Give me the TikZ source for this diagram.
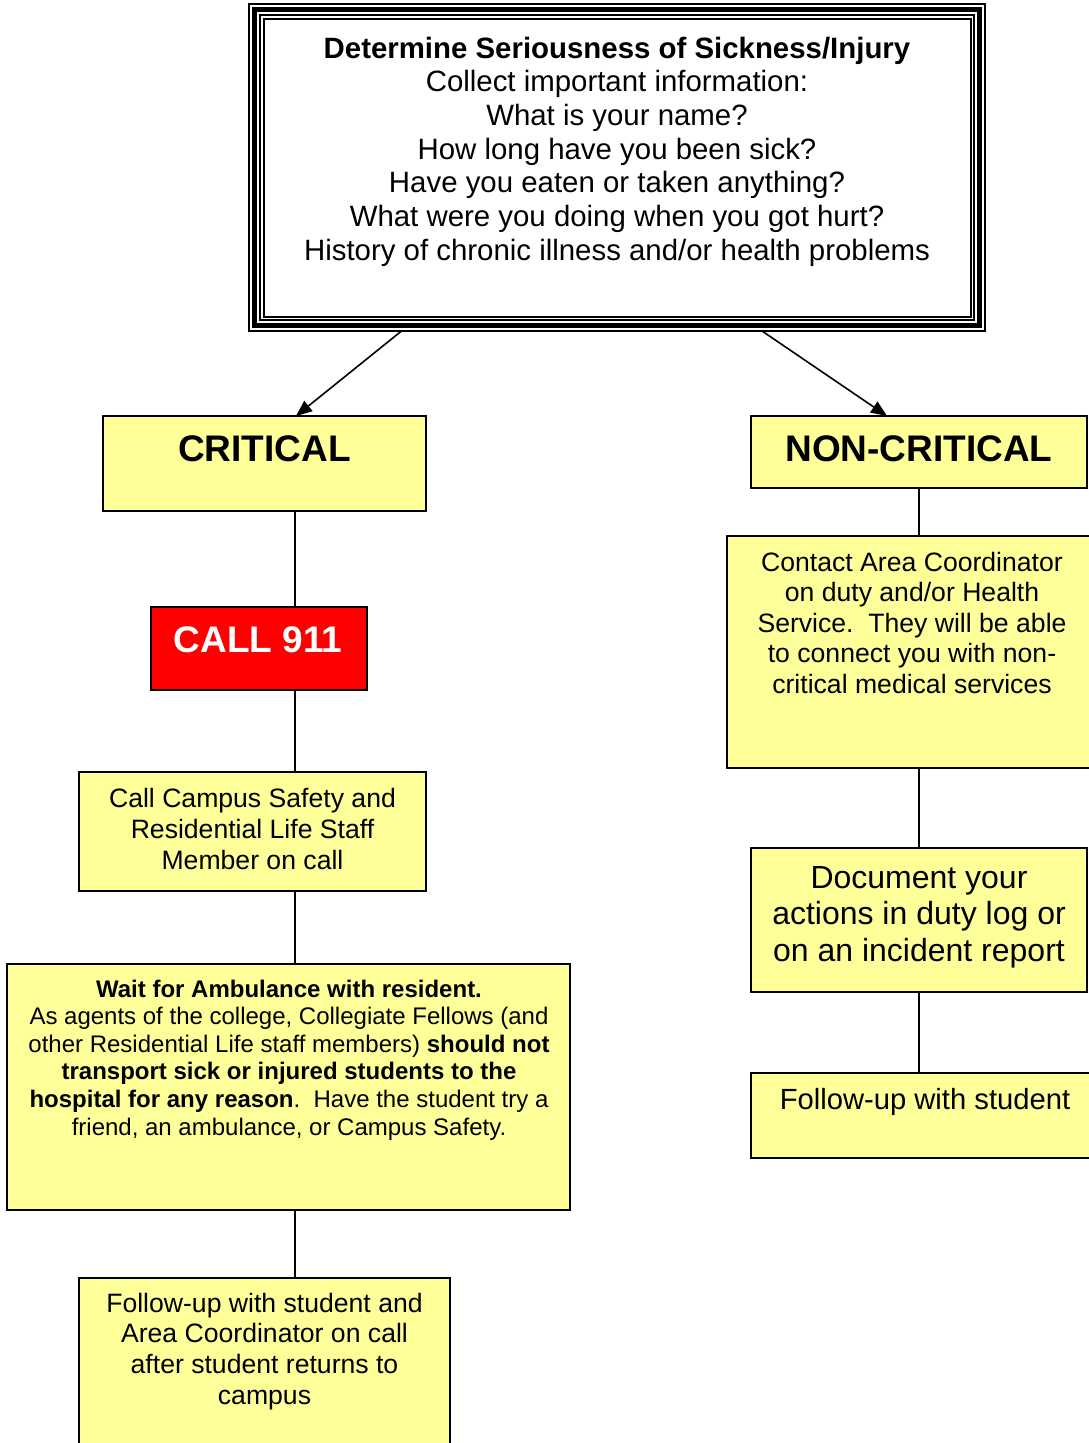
\documentclass[tikz,border=0pt]{standalone}
\usepackage{fontspec}
\setmainfont{Liberation Sans}
\usetikzlibrary{arrows.meta}
\definecolor{boxyellow}{HTML}{FFFF99}
\definecolor{callred}{HTML}{FF0000}
\newcommand\firststrut{\rule{0pt}{1em}}
\begin{document}
\begin{tikzpicture}[x=1pt,y=-1pt,
  ybox/.style={draw=black, line width=2pt, fill=boxyellow, rectangle, inner sep=0pt, outer sep=0pt, anchor=north west},
  rbox/.style={ybox, fill=callred},
  txt/.style={inner sep=0pt, outer sep=0pt, align=center, anchor=north},
  conn/.style={draw=black, line width=2pt},
  arr/.style={draw=black, line width=1.6pt, -{Triangle[length=16pt,width=13pt]}},
  frame/.style={draw=black}
]
\useasboundingbox (0,0) rectangle (1089,1443);
\clip (0,0) rectangle (1089,1443);
\fill[white] (0,0) rectangle (1089,1443);

% top box with triple frame
\node[rectangle, draw=black, line width=2pt, inner sep=0pt, outer sep=0pt, anchor=north west,
      minimum width=736pt, minimum height=327pt] (top) at (249,4) {};
\draw[frame, line width=5pt] ([shift={(5.5,5.5)}]top.north west) rectangle ([shift={(-5.5,-5.5)}]top.south east);
\draw[frame, line width=1.5pt] ([shift={(11,11)}]top.north west) rectangle ([shift={(-11,-11)}]top.south east);
\draw[frame, line width=2pt] ([shift={(14.5,14.5)}]top.north west) rectangle ([shift={(-14.5,-14.5)}]top.south east);
\node[txt, font=\fontsize{29.4}{33.7}\selectfont] (toptext) at (617,{58-29.4}) {\firststrut\textbf{Determine Seriousness of Sickness/Injury}\\
Collect important information:\\
What is your name?\\
How long have you been sick?\\
Have you eaten or taken anything?\\
What were you doing when you got hurt?\\
History of chronic illness and/or health problems};

% left column
\node[ybox, minimum width=323pt, minimum height=95pt] (crit) at (103,416) {};
\node[inner sep=0pt, anchor=base, font=\fontsize{37}{42}\selectfont\bfseries] (crittext) at (264.5,461) {CRITICAL};

\node[rbox, minimum width=216pt, minimum height=83pt] (call) at (151,607) {};
\node[inner sep=0pt, anchor=base, text=white, font=\fontsize{37}{42}\selectfont\bfseries] (calltext) at (258,652.5) {CALL 911};

\node[ybox, minimum width=347pt, minimum height=119pt] (campus) at (79,772) {};
\node[txt, font=\fontsize{26.6}{30.8}\selectfont] (campustext) at (252.5,{807.5-26.6}) {\firststrut Call Campus Safety and\\Residential Life Staff\\Member on call};

\node[ybox, minimum width=563pt, minimum height=246pt] (wait) at (7,964) {};
\node[txt, font=\fontsize{24}{27.6}\selectfont] (waittext) at (289,{997-24}) {\firststrut\textbf{Wait for Ambulance with resident.}\\
As agents of the college, Collegiate Fellows (and\\
other Residential Life staff members) \textbf{should not}\\
\textbf{transport sick or injured students to the}\\
\textbf{hospital for any reason}.\ \ Have the student try a\\
friend, an ambulance, or Campus Safety.};

\node[ybox, minimum width=371pt, minimum height=200pt] (ful) at (79,1278) {};
\node[txt, font=\fontsize{26.6}{30.8}\selectfont] (fultext) at (264.5,{1312-26.6}) {\firststrut Follow-up with student and\\Area Coordinator on call\\after student returns to\\campus};

% right column
\node[ybox, minimum width=336pt, minimum height=72pt] (noncrit) at (751,416) {};
\node[inner sep=0pt, anchor=base, font=\fontsize{37}{42}\selectfont\bfseries] (noncrittext) at (919,461) {NON-CRITICAL};

\node[ybox, minimum width=370pt, minimum height=232pt] (contact) at (727,536) {};
\node[txt, font=\fontsize{26.6}{30.6}\selectfont] (contacttext) at (912,{571-26.6}) {\firststrut Contact Area Coordinator\\on duty and/or Health\\Service.\ \ They will be able\\to connect you with non-\\critical medical services};

\node[ybox, minimum width=336pt, minimum height=144pt] (doc) at (751,848) {};
\node[txt, font=\fontsize{32}{36.8}\selectfont] (doctext) at (919,{888-32}) {\firststrut Document your\\actions in duty log or\\on an incident report};

\node[ybox, minimum width=348pt, minimum height=85pt] (fur) at (751,1073) {};
\node[inner sep=0pt, anchor=base, font=\fontsize{29.2}{33.6}\selectfont] (furtext) at (925,1109) {Follow-up with student};

% connectors
\coordinate (lx) at (295,0);
\coordinate (rx) at (919,0);
\draw[conn] (crit.south -| lx) -- (call.north -| lx);
\draw[conn] (call.south -| lx) -- (campus.north -| lx);
\draw[conn] (campus.south -| lx) -- (wait.north -| lx);
\draw[conn] (wait.south -| lx) -- (ful.north -| lx);
\draw[conn] (noncrit.south -| rx) -- (contact.north -| rx);
\draw[conn] (contact.south -| rx) -- (doc.north -| rx);
\draw[conn] (doc.south -| rx) -- (fur.north -| rx);

% arrows
\coordinate (a1) at (401.5,0);
\coordinate (a2) at (296,0);
\coordinate (b1) at (762,0);
\coordinate (b2) at (887,0);
\draw[arr] (top.south -| a1) -- (crit.north -| a2);
\draw[arr] (top.south -| b1) -- (noncrit.north -| b2);
\end{tikzpicture}
\end{document}
